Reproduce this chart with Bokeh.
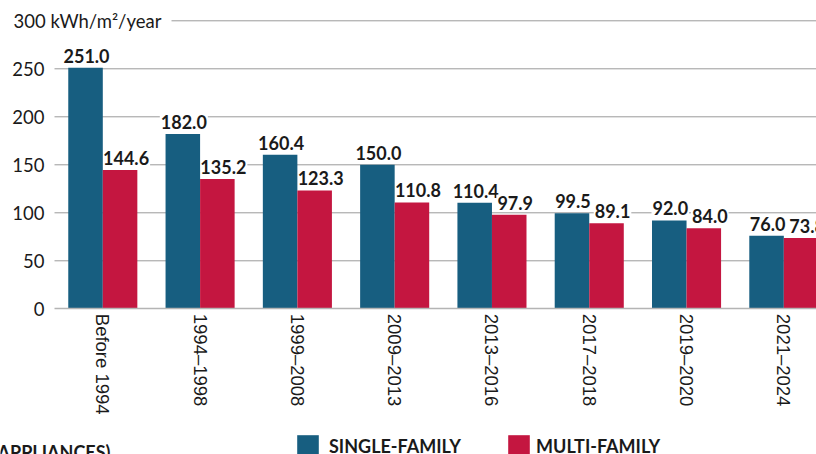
from bokeh.plotting import figure
from bokeh.models import (ColumnDataSource, Range1d, FixedTicker, Label,
                          Legend, LegendItem, LinearAxis, Text)
from bokeh.core.properties import value
from bokeh.embed import file_html
from bokeh.resources import INLINE

# ---- data ----
periods = ["Before 1994", "1994\u20131998", "1999\u20132008", "2009\u20132013",
           "2013\u20132016", "2017\u20132018", "2019\u20132020", "2021\u20132024"]
single_family = [251.0, 182.0, 160.4, 150.0, 110.4, 99.5, 92.0, 76.0]
multi_family = [144.6, 135.2, 123.3, 110.8, 97.9, 89.1, 84.0, 73.8]
y_ticks = [0, 50, 100, 150, 200, 250]
grid_ticks = [50, 100, 150, 200, 250]
top_tick = 300
unit_label = "300 kWh/m\u00b2/year"
series_names = ["SINGLE-FAMILY", "MULTI-FAMILY"]
footer_text = "(APPLIANCES)"

# ---- style / layout ----
BLUE = "#175E80"
RED = "#C41640"
GRID = "#9a9a9a"
TXT = "#1a1a1a"
FONT = "Lato"

W, H = 816, 454
PITCH = 97.29          # px per category
X0PX = 102.3           # px of first category centre
ZERO_PX = 308.3        # px of y = 0
PXU = 0.96             # px per y unit


def ux(px):
    return (px - X0PX) / PITCH


def uy(px):
    return (ZERO_PX - px) / PXU


X_START, X_END = ux(0), ux(W)
Y_START, Y_END = uy(H), uy(0)
PLOT_LEFT = ux(54)
DODGE = 0.1775
BAR_W = 0.355

idx = list(range(len(periods)))
src = ColumnDataSource(dict(
    xs=[i - DODGE for i in idx],
    xm=[i + DODGE for i in idx],
    s=single_family,
    m=multi_family,
    ls=[f"{v:.1f}" for v in single_family],
    lm=[f"{v:.1f}" for v in multi_family],
))

p = figure(width=W, height=H, output_backend="svg", toolbar_location=None,
           x_range=Range1d(X_START, X_END), y_range=Range1d(Y_START, Y_END),
           x_axis_location=None, y_axis_location=None, min_border=0)
p.outline_line_color = None
p.background_fill_color = "white"
p.border_fill_color = "white"
p.grid.visible = False

# grid lines (underneath everything)
p.segment(x0=[PLOT_LEFT] * len(grid_ticks), y0=grid_ticks,
          x1=[X_END] * len(grid_ticks), y1=grid_ticks,
          line_color=GRID, line_width=1, level="underlay")
p.segment(x0=[ux(171)], y0=[top_tick], x1=[X_END], y1=[top_tick],
          line_color=GRID, line_width=1, level="underlay")

# value labels first (white backing hides grid lines; bars are drawn over it)
has_bg = "background_fill_color" in Text.properties()
for xcol, lcol, ycol, xoff in (("xs", "ls", "s", 1), ("xm", "lm", "m", 6)):
    kw = dict(x=xcol, y=ycol, text=lcol, source=src, text_align="center",
              text_baseline="alphabetic", y_offset=-12, x_offset=xoff,
              text_font=value(FONT), text_font_style="bold",
              text_font_size=value("18px"), text_color=TXT)
    if has_bg:
        kw["background_fill_color"] = "white"
        if "padding" in Text.properties():
            kw["padding"] = 1
    p.text(**kw)

r1 = p.vbar(x="xs", top="s", width=BAR_W, source=src, fill_color=BLUE, line_color=None)
r2 = p.vbar(x="xm", top="m", width=BAR_W, source=src, fill_color=RED, line_color=None)

# axes (fixed inside the frame)
yax = LinearAxis(fixed_location=PLOT_LEFT, ticker=FixedTicker(ticks=y_ticks),
                 bounds=(0, 250))
yax.axis_line_color = None
yax.major_tick_line_color = None
yax.minor_tick_line_color = None
yax.major_tick_out = 0
yax.major_label_standoff = 10
yax.major_label_text_font = FONT
yax.major_label_text_font_size = "18.5px"
yax.major_label_text_color = TXT
p.add_layout(yax, "left")

xax = LinearAxis(fixed_location=0, ticker=FixedTicker(ticks=idx),
                 bounds=(PLOT_LEFT, X_END))
xax.major_label_overrides = {i: lab for i, lab in enumerate(periods)}
xax.major_label_orientation = "vertical"
xax.axis_line_color = "#b4b4b4"
xax.axis_line_width = 1.5
xax.major_tick_line_color = None
xax.minor_tick_line_color = None
xax.major_tick_out = 0
xax.major_label_standoff = 5
xax.major_label_text_font = "Liberation Sans"
xax.major_label_text_font_size = "18.5px"
xax.major_label_text_color = TXT
p.add_layout(xax, "below")

# unit label at the 300 line
p.add_layout(Label(x=ux(13), y=top_tick, text=unit_label,
                   text_align="left", text_baseline="middle", text_font=FONT,
                   text_font_size="18.5px", text_color=TXT))

# footer caption (cut off by the bottom edge)
p.add_layout(Label(x=ux(110), y=uy(451), text=footer_text,
                   text_align="right", text_baseline="alphabetic", text_font=FONT,
                   text_font_style="bold", text_font_size="18px", text_color=TXT))

# legends
for name, rend, loc, stand in ((series_names[0], r1, (294, -5), 8),
                               (series_names[1], r2, (505, -5), 4)):
    lg = Legend(items=[LegendItem(label=name, renderers=[rend])], location=loc,
                orientation="horizontal", glyph_width=27, glyph_height=27,
                label_height=27, label_standoff=stand, padding=0, margin=0,
                border_line_color=None, background_fill_alpha=0,
                label_text_font=FONT, label_text_font_style="bold",
                label_text_font_size="18px", label_text_color=TXT)
    p.add_layout(lg)

open("out.html", "w").write(file_html(p, INLINE))
